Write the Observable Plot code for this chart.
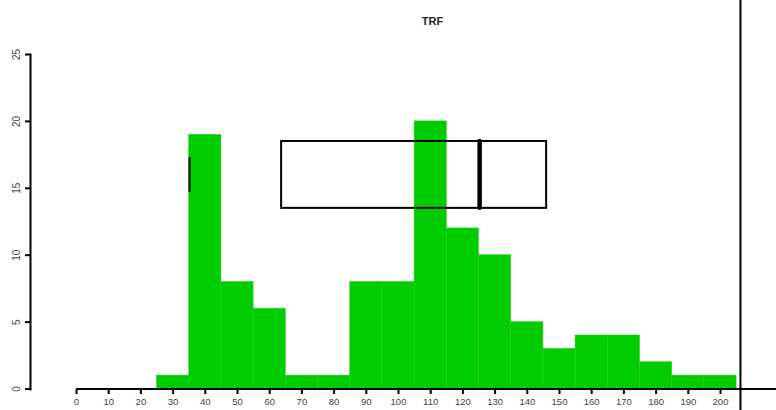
<!DOCTYPE html>
<html>
<head>
<meta charset="utf-8">
<script src="https://cdn.jsdelivr.net/npm/d3@7"></script>
<script src="https://cdn.jsdelivr.net/npm/@observablehq/plot@0.6"></script>
<style>
  html, body { margin: 0; padding: 0; background: #fff; }
  svg { display: block; }
</style>
</head>
<body>
<div id="chart"></div>
<script>
// Histogram bins (start of each 10-wide bin) and counts
const binStarts = [25, 35, 45, 55, 65, 75, 85, 95, 105, 115, 125, 135, 145, 155, 165, 175, 185, 195];
const counts    = [1, 19, 8, 6, 1, 1, 8, 8, 20, 12, 10, 5, 3, 4, 4, 2, 1, 1];
const binWidth = 10;

// Box overlay
const boxQ1 = 63.7, boxQ3 = 146, boxMedian = 125.2;
const boxLow = 13.5, boxHigh = 18.5;
const whiskerX = 35.1, whiskerLow = 14.7, whiskerHigh = 17.3;

// Panel divider and extents
const dividerX = 206.2;
const axisRightEnd = 217.4;

// Ticks and labels
const xTicks = d3.range(0, 201, 10);
const yTicks = [0, 5, 10, 15, 20, 25];
const title = "TRF";

const bars = binStarts.map((s, i) => ({x1: s, x2: s + binWidth, count: counts[i]}));

const fontFamily = "Liberation Sans, Arial, sans-serif";

const chart = Plot.plot({
  width: 776,
  height: 410,
  marginLeft: 30,
  marginRight: 0,
  marginTop: 54,
  marginBottom: 21,
  style: {fontFamily, background: "white"},
  x: {domain: [0, 200], range: [76, 720]},
  y: {domain: [0, 25], range: [388.5, 54]},
  marks: [
    Plot.rectY(bars, {x1: "x1", x2: "x2", y: "count", fill: "#00cc00", stroke: "#22d222", strokeWidth: 0.5}),
    // y axis line
    Plot.frame({anchor: "left", stroke: "black", strokeWidth: 2}),
    Plot.axisY({ticks: yTicks, tickSize: 5, strokeWidth: 2, stroke: "black", tickFormat: () => "", label: null}),
    Plot.text(yTicks, {y: d => d, text: d => String(d), frameAnchor: "left", dx: -14, rotate: -90, textAnchor: "middle", fontSize: 10, fill: "#444"}),
    // x axis line
    Plot.ruleY([0], {x1: 0, x2: axisRightEnd, stroke: "black", strokeWidth: 2}),
    Plot.axisX({ticks: xTicks, tickSize: 5, tickPadding: 4, strokeWidth: 2, stroke: "black", fill: "#444", fontSize: 9.5, tickFormat: d => String(d), label: null}),
    // divider
    Plot.ruleX([dividerX], {y1: -2, y2: 30, stroke: "black", strokeWidth: 2}),
    // box
    Plot.rect([{}], {x1: boxQ1, x2: boxQ3, y1: boxLow, y2: boxHigh, fill: "none", stroke: "black", strokeWidth: 2}),
    Plot.ruleX([boxMedian], {y1: boxLow, y2: boxHigh, stroke: "black", strokeWidth: 4.5, strokeLinecap: "round"}),
    Plot.ruleX([whiskerX], {y1: whiskerLow, y2: whiskerHigh, stroke: "black", strokeWidth: 2}),
    // title
    Plot.text([title], {frameAnchor: "top", dx: 29, dy: -37, text: d => d, fontWeight: "bold", fontSize: 11, fill: "#222"})
  ]
});
document.getElementById("chart").appendChild(chart);
</script>
</body>
</html>
